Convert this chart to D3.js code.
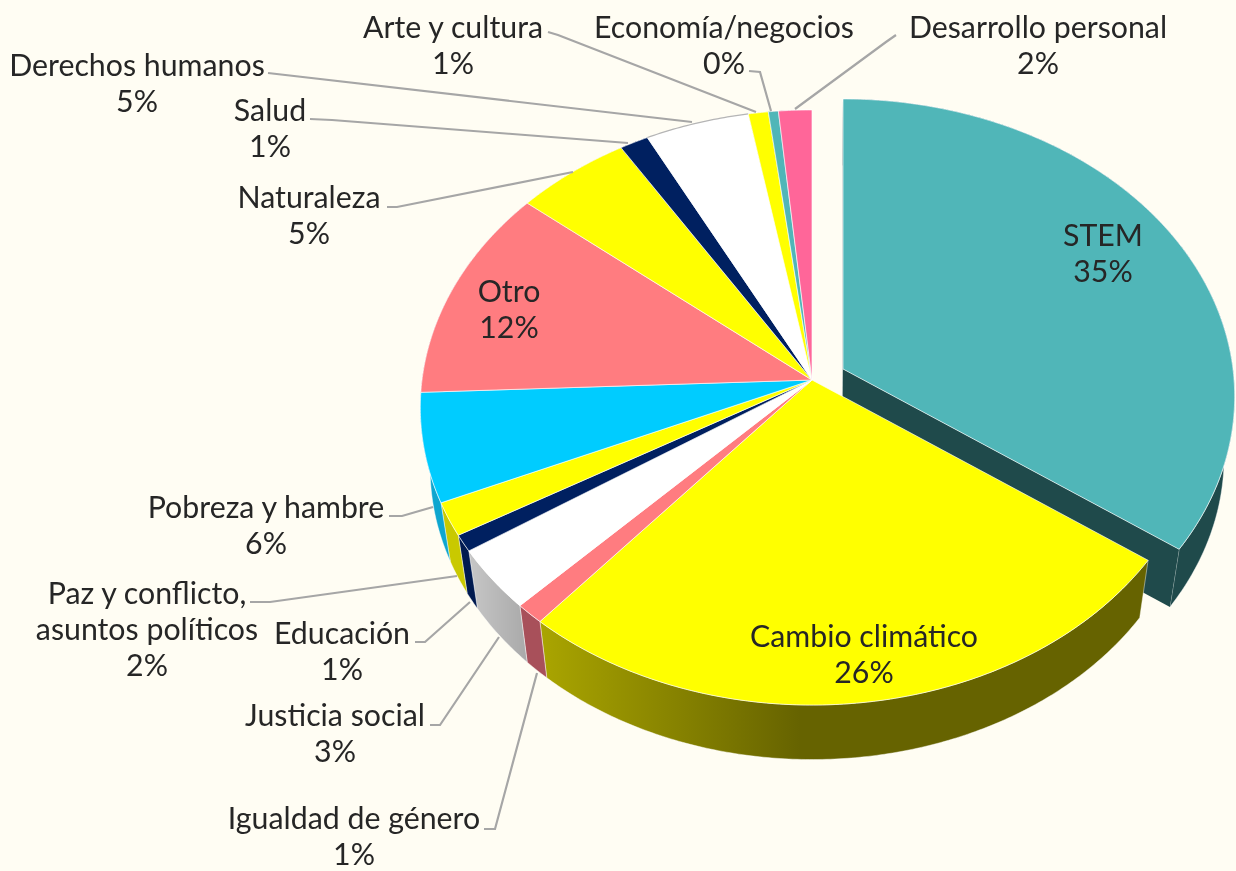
<!DOCTYPE html>
<html><head><meta charset="utf-8">
<script src="https://cdnjs.cloudflare.com/ajax/libs/d3/7.8.5/d3.min.js"></script>
<style>html,body{margin:0;padding:0;background:#fffdf3;overflow:hidden}svg{display:block;filter:blur(0.4px)}</style>
</head><body><svg id="c" width="1236" height="871"></svg>
<script>
const categories=["STEM","Cambio climático","Igualdad de género","Justicia social","Educación","Paz y conflicto,|asuntos políticos","Pobreza y hambre","Otro","Naturaleza","Salud","Derechos humanos","Arte y cultura","Economía/negocios","Desarrollo personal"];
const shares=[34.8,26.4,1.1,3.4,0.9,1.8,5.9,11.6,5.2,1.3,4.7,0.9,0.45,1.5];
const topColors=["#50b6b8","#ffff00","#ff7c80","#ffffff","#002060","#ffff00","#00ccff","#ff7c80","#ffff00","#002060","#ffffff","#ffff00","#50b6b8","#ff6699"];
const wallColors=["#1f4a4b","url(#gOlive)","#a8505a","url(#gGrey)","#001a50","#c9c900","#0ea6cf","#c06065","#c9c900","#001a50","#cccccc","#c9c900","#1f4a4b","#c05080"];
const labelCenters=[[1103,236],[864,637],[354,819],[335,716],[342,634],[147,594],[266,508],[509,292],[309,198],[270,111],[137,66],[453,28],[724,28],[1038,28]];
const leaders=[null,null,
 [[484,829],[495,829],[537,673]],
 [[430,725],[440,725],[499,637]],
 [[415,642],[425,642],[470,602]],
 [[250,602],[270,602],[457,576]],
 [[389,516],[402,516],[433,507]],
 null,
 [[387,207],[397,207],[573,172]],
 [[310,119],[332,120],[628,143]],
 [[268,73],[692,122]],
 [[548,32],[558,35],[756,112]],
 [[749,71],[760,72],[771,111]],
 [[896,35],[886,42],[795,109]]];

const cx=812,cy=380,A=295,B=0.0924,C=390,explode=[31,-11];
const svg=d3.select("#c");
svg.append("rect").attr("width",1236).attr("height",871).attr("fill","#fffdf3");
const defs=svg.append("defs");
function grad(id,x1,x2,c1,c2){
  const g=defs.append("linearGradient").attr("id",id).attr("gradientUnits","userSpaceOnUse")
    .attr("x1",x1).attr("x2",x2).attr("y1",0).attr("y2",0);
  g.append("stop").attr("offset",0).attr("stop-color",c1);
  g.append("stop").attr("offset",1).attr("stop-color",c2);
}
grad("gOlive",540,800,"#aaa500","#666300");
grad("gGrey",470,530,"#c6c6c6","#a8a8a8");

const total=d3.sum(shares);
const pct=d3.format(".0%");
const arcs=d3.pie().sort(null).startAngle(0).endAngle(2*Math.PI)(shares);
const line=d3.line();
function rim(a){
  const u=Math.sin(a),v=Math.cos(a),k=1+B*v;
  return [cx+C*u/k,cy-A*v/k];
}
function move(p,i){return i===0?[p[0]+explode[0],p[1]+explode[1]]:p;}
function lower(p){return [cx+(p[0]-cx)*0.975,cy+(p[1]-cy)*0.98+61];}
function rimPts(d){
  const n=Math.max(4,Math.ceil((d.endAngle-d.startAngle)/0.01));
  return d3.range(n+1).map(j=>rim(d.startAngle+(d.endAngle-d.startAngle)*j/n));
}
function drawWalls(g,d,i){
  const top=rimPts(d).map(p=>move(p,i));
  const low=top.map(lower);
  g.append("path").attr("d",line(top.concat(low.slice().reverse()))+"Z")
    .attr("fill",wallColors[i]).attr("stroke","#ffffff").attr("stroke-opacity",0.55).attr("stroke-width",0.8);
  if(i===0){
    const apex=move([cx,cy],0);
    [top[0],top[top.length-1]].forEach((p,k)=>{
      g.append("path").attr("d",line([apex,p,lower(p),lower(apex)])+"Z")
        .attr("fill",k===0?"#b8c4c4":wallColors[0]);
    });
  }
}
function drawTop(g,d,i){
  const pts=[[cx,cy]].concat(rimPts(d)).map(p=>move(p,i));
  g.append("path").attr("d",line(pts)+"Z").attr("fill",topColors[i])
    .attr("stroke","#ffffff").attr("stroke-opacity",0.7).attr("stroke-width",0.9).attr("stroke-linejoin","round");
  if(topColors[i]==="#ffffff"&&i>5){
    g.append("path").attr("d",line(rimPts(d))).attr("fill","none").attr("stroke","#b5b5b5").attr("stroke-width",1.2);
  }
}
const gPie=svg.append("g");
drawWalls(gPie,arcs[0],0);
drawTop(gPie,arcs[0],0);
arcs.forEach((d,i)=>{if(i>0)drawWalls(gPie,d,i);});
arcs.forEach((d,i)=>{if(i>0)drawTop(gPie,d,i);});

const gLead=svg.append("g").attr("fill","none").attr("stroke","#a6a6a6").attr("stroke-width",2.2);
leaders.forEach(p=>{if(p)gLead.append("path").attr("d",line(p));});

const gText=svg.append("g").attr("font-family","Lato").attr("font-size",30.3).attr("fill","#262626").attr("text-anchor","middle");
categories.forEach((name,i)=>{
  const lines=name.split("|").concat(pct(shares[i]/total));
  const t=gText.append("text");
  lines.forEach((s,k)=>{
    t.append("tspan").attr("x",labelCenters[i][0]).attr("y",labelCenters[i][1]+9.5+k*36).text(s);
  });
});
</script></body></html>
